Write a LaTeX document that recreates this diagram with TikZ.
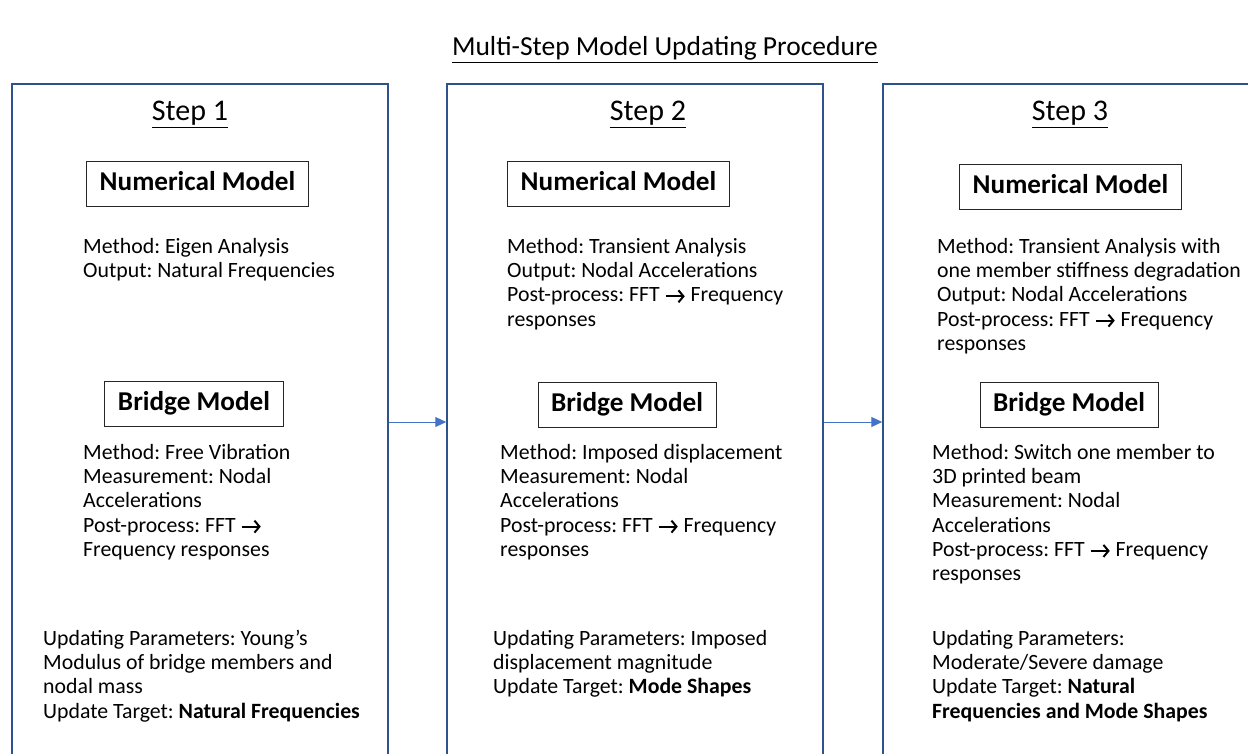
\documentclass[tikz,border=0pt]{standalone}
\usepackage{fontspec}
\setmainfont{Carlito}
\usetikzlibrary{arrows.meta,positioning,calc}
\definecolor{framebl}{HTML}{2F528F}
\definecolor{flowbl}{HTML}{4472C4}
\frenchspacing
\newcommand{\bodyfont}{\fontsize{21.8}{24.3}\selectfont}
\newcommand{\fftarr}{\tikz[baseline=0pt,x=1pt,y=1pt]
  \draw[line width=2pt,-{Straight Barb[length=5pt,width=12pt]}] (0,5.5) -- (19,5.5);}
\tikzset{
  stepframe/.style={draw=framebl, line width=1.5pt, minimum width=376pt,
    minimum height=676pt, inner sep=0pt},
  modelbox/.style={draw=black!85, line width=1pt,
    font=\fontsize{27.2}{32}\selectfont\bfseries, inner xsep=13pt,
    text height=19pt, text depth=6pt, inner ysep=0pt, minimum height=45pt},
  steptitle/.style={font=\fontsize{30}{36}\selectfont, anchor=base},
  info/.style={font=\bodyfont, align=left, anchor=north west, inner sep=0pt},
  flow/.style={draw=flowbl, line width=1pt, -{Triangle[length=11pt,width=10pt]}}
}

\begin{document}
\begin{tikzpicture}[x=1pt,y=-1pt]
\useasboundingbox (0,0) rectangle (1248,754);
\clip (0,0) rectangle (1248,754);

%Title
\node[font=\fontsize{27.5}{33}\selectfont, anchor=base] (title) at (665,56)
  {\underline{Multi-Step Model Updating Procedure}};

%Frames, open at the bottom
\node[stepframe] (step1) at (200,422) {};
\node[stepframe] (step2) at (635,422) {};
\node[stepframe] (step3) at (1071,422) {};

\draw[flow] (step1.east) -- (step2.west);
\draw[flow] (step2.east) -- (step3.west);

\node[steptitle] (s1) at (190,121) {\underline{Step 1}};
\node[steptitle] (s2) at (648,121) {\underline{Step 2}};
\node[steptitle] (s3) at (1070,121) {\underline{Step 3}};

%Step 1
\node[modelbox] (num1) at (197.5,184.5) {Numerical Model};
\node[info] (num1txt) at (83,236) {\strut Method: Eigen Analysis\\
  Output: Natural Frequencies};
\node[modelbox] (br1) at (194,404) {Bridge Model};
\node[info] (br1txt) at (83,442) {\strut Method: Free Vibration\\
  Measurement: Nodal\\ Accelerations\\ Post-process: FFT \fftarr\\
  Frequency responses};
\node[info] (upd1) at (43,628) {\strut Updating Parameters: Young’s\\
  Modulus of bridge members and\\ nodal mass\\
  Update Target: \textbf{Natural Frequencies}};

%Step 2
\node[modelbox] (num2) at (618.5,184.5) {Numerical Model};
\node[info] (num2txt) at (507,236) {\strut Method: Transient Analysis\\
  Output: Nodal Accelerations\\ Post-process: FFT \fftarr{} Frequency\\
  responses};
\node[modelbox] (br2) at (627,404.5) {Bridge Model};
\node[info] (br2txt) at (500,442) {\strut Method: Imposed displacement\\
  Measurement: Nodal\\ Accelerations\\
  Post-process: FFT \fftarr{} Frequency\\ responses};
\node[info] (upd2) at (493,628) {\strut Updating Parameters: Imposed\\
  displacement magnitude\\ Update Target: \textbf{Mode Shapes}};

%Step 3
\node[modelbox] (num3) at (1070.5,187.5) {Numerical Model};
\node[info] (num3txt) at (937,236) {\strut Method: Transient Analysis with\\
  one member stiffness degradation\\ Output: Nodal Accelerations\\
  Post-process: FFT \fftarr{} Frequency\\ responses};
\node[modelbox] (br3) at (1069,404.5) {Bridge Model};
\node[info] (br3txt) at (932,442) {\strut Method: Switch one member to\\
  3D printed beam\\ Measurement: Nodal\\ Accelerations\\
  Post-process: FFT \fftarr{} Frequency\\ responses};
\node[info] (upd3) at (932,628) {\strut Updating Parameters:\\
  Moderate/Severe damage\\ Update Target: \textbf{Natural}\\
  \textbf{Frequencies and Mode Shapes}};
\end{tikzpicture}
\end{document}
